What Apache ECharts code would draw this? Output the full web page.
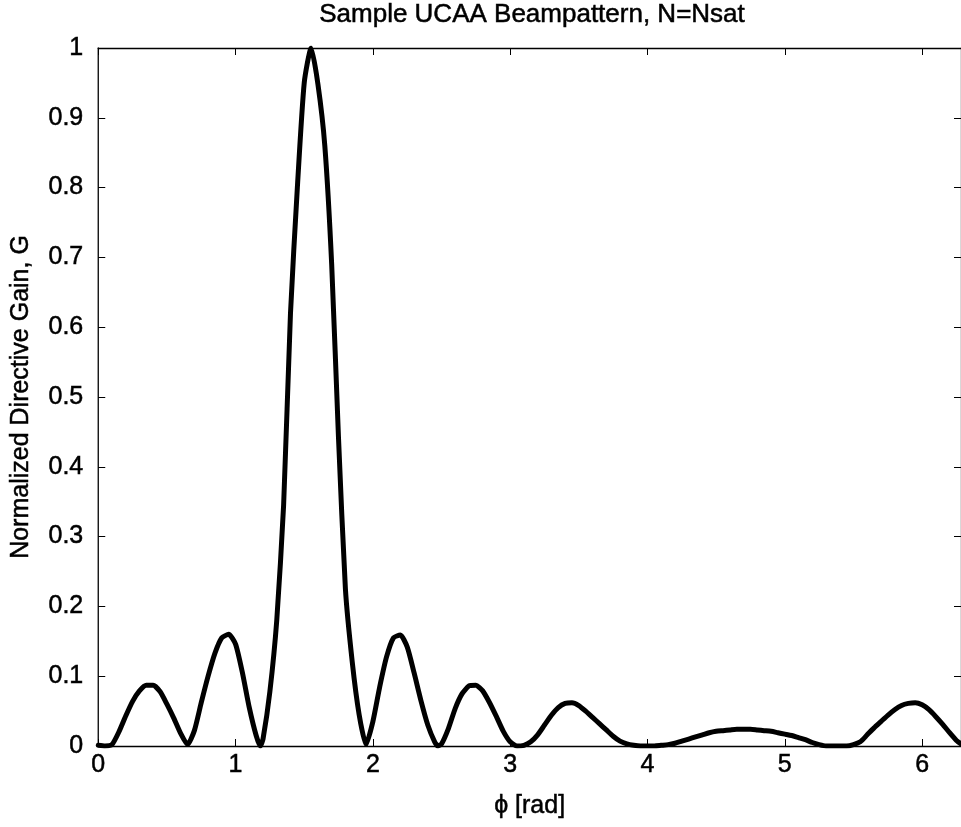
<!DOCTYPE html>
<html>
<head>
<meta charset="utf-8">
<script src="https://cdn.jsdelivr.net/npm/echarts@6/dist/echarts.min.js"></script>
<style>
html,body{margin:0;padding:0;background:#fff;}
#chart{width:961px;height:827px;}
</style>
</head>
<body>
<div id="chart"></div>
<script>
// phi [rad]
const phi = [
 0.00,0.05,0.10,0.15,0.20,0.25,0.30,0.35,0.40,0.45,0.50,0.55,0.60,0.65,
 0.70,0.75,0.80,0.85,0.90,0.95,1.00,1.05,1.10,1.15,1.18,
 1.20,1.25,1.30,1.35,1.40,1.45,1.50,1.55,1.60,1.65,1.70,1.75,1.80,1.85,1.90,1.95,
 2.00,2.05,2.10,2.15,2.20,2.25,2.30,2.35,2.40,2.45,2.475,
 2.50,2.55,2.60,2.65,2.70,2.75,2.80,2.85,2.90,2.95,3.00,3.05,3.10,
 3.15,3.20,3.25,3.30,3.35,3.40,3.45,3.50,3.55,3.60,3.65,3.70,3.75,3.80,3.85,3.90,3.95,4.00,4.05,4.10,4.15,
 4.20,4.25,4.30,4.35,4.40,4.45,4.50,4.55,4.60,4.65,4.70,4.75,4.80,4.85,4.90,4.95,5.00,5.05,5.10,5.15,5.20,5.25,5.30,5.35,5.40,5.45,5.50,
 5.55,5.60,5.65,5.70,5.75,5.80,5.85,5.90,5.95,6.00,6.05,6.10,6.15,6.20,6.25,6.2832
];
// Normalized directive gain G
const gain = [
 0.001,0.000,0.002,0.020,0.043,0.064,0.079,0.087,0.087,0.078,0.060,0.040,0.018,0.002,
 0.022,0.062,0.100,0.133,0.155,0.160,0.146,0.105,0.055,0.015,0.000,
 0.010,0.078,0.180,0.345,0.620,0.800,0.950,1.000,0.948,0.860,0.690,0.440,0.225,0.120,0.045,0.002,
 0.035,0.085,0.128,0.155,0.159,0.142,0.105,0.065,0.030,0.006,0.000,
 0.003,0.025,0.054,0.075,0.086,0.087,0.079,0.062,0.042,0.021,0.006,0.000,0.001,
 0.006,0.016,0.030,0.044,0.055,0.061,0.062,0.058,0.050,0.041,0.032,0.023,0.014,0.007,0.003,0.001,0.000,0.000,0.000,0.001,0.002,
 0.004,0.007,0.010,0.013,0.016,0.019,0.021,0.022,0.023,0.024,0.024,0.024,0.023,0.022,0.021,0.019,0.017,0.015,0.012,0.009,0.005,0.002,0.000,0.000,0.000,0.000,0.002,
 0.006,0.016,0.026,0.035,0.044,0.052,0.058,0.061,0.062,0.059,0.052,0.042,0.031,0.019,0.008,0.003
];
const xTicks = [0,1,2,3,4,5,6];
const yTicks = [0,0.1,0.2,0.3,0.4,0.5,0.6,0.7,0.8,0.9,1];

const titleText = 'Sample UCAA Beampattern, N=Nsat';
const xName = '\u03D5 [rad]';
const yName = 'Normalized Directive Gain, G';

const FONT = 'Arial, "Liberation Sans", sans-serif';
const chart = echarts.init(document.getElementById('chart'), null, {renderer:'canvas'});

const tickCommon = {show:true, inside:true, length:7, lineStyle:{color:'#000', width:1}};
const lineCommon = {show:true, onZero:false, lineStyle:{color:'#000', width:1.3}};
const heavy = {textBorderColor:'#000', textBorderWidth:0.5};

chart.setOption({
  animation:false,
  backgroundColor:'#fff',
  title:{
    text:titleText, left:527, top:-3, textAlign:'center',
    textStyle:Object.assign({fontFamily:FONT, fontSize:26, fontWeight:'normal', color:'#000'}, heavy)
  },
  grid:{left:98, top:48, width:869, height:698, containLabel:false},
  xAxis:[{
    type:'value', min:0, max:2*Math.PI, interval:1, position:'bottom',
    axisLine:lineCommon, axisTick:tickCommon, splitLine:{show:false},
    axisLabel:Object.assign({show:true, margin:7, fontFamily:FONT, fontSize:25, color:'#000',
      showMaxLabel:false,
      formatter:v => xTicks.includes(Math.round(v*1000)/1000) ? String(v) : ''}, heavy),
    name:xName, nameLocation:'middle', nameGap:48,
    nameTextStyle:Object.assign({fontFamily:FONT, fontSize:25, color:'#000'}, heavy)
  },{
    type:'value', min:0, max:2*Math.PI, interval:1, position:'top',
    axisLine:lineCommon, axisTick:tickCommon, splitLine:{show:false},
    axisLabel:{show:false}
  }],
  yAxis:[{
    type:'value', min:0, max:1, interval:0.1, position:'left',
    axisLine:lineCommon, axisTick:tickCommon, splitLine:{show:false},
    axisLabel:Object.assign({show:true, margin:15, fontFamily:FONT, fontSize:25, color:'#000',
      formatter:v => { const r=Math.round(v*10)/10; return yTicks.includes(r) ? String(r) : ''; }}, heavy),
    name:yName, nameLocation:'middle', nameGap:65,
    nameTextStyle:Object.assign({fontFamily:FONT, fontSize:25, color:'#000'}, heavy)
  },{
    type:'value', min:0, max:1, interval:0.1, position:'right',
    axisLine:lineCommon, axisTick:tickCommon, splitLine:{show:false},
    axisLabel:{show:false}
  }],
  series:[{
    type:'line', xAxisIndex:0, yAxisIndex:0,
    data:phi.map((p,i)=>[p, gain[i]]),
    showSymbol:false, smooth:0.2,
    lineStyle:{color:'#000', width:5, join:'round', cap:'round'},
    clip:true
  }]
});
</script>
</body>
</html>
